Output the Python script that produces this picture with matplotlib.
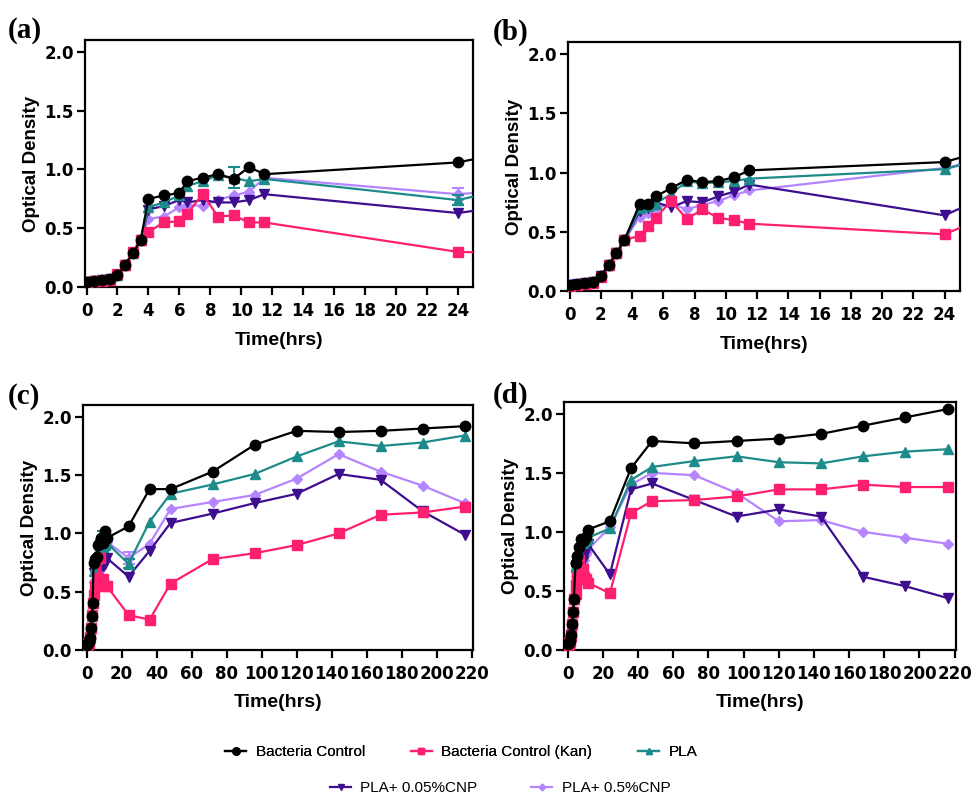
import numpy as np
import matplotlib
matplotlib.use("Agg")
import matplotlib.pyplot as plt

plt.rcParams['font.family'] = ['Liberation Sans', 'DejaVu Sans']

# experiment 1 -> panels (a) and (c)
t1 = [0, 0.5, 1, 1.5, 2, 2.5, 3, 3.5, 4, 5, 6, 6.5, 7.5, 8.5, 9.5, 10.5, 11.5,
      24, 36, 48, 72, 96, 120, 144, 168, 192, 216]
ctrl1 = [0.04, 0.05, 0.06, 0.07, 0.10, 0.19, 0.29, 0.40, 0.75, 0.78, 0.80, 0.90, 0.93, 0.96, 0.92, 1.02, 0.96,
         1.06, 1.38, 1.38, 1.53, 1.76, 1.88, 1.87, 1.88, 1.90, 1.92]
kan1 = [0.04, 0.05, 0.05, 0.06, 0.11, 0.19, 0.30, 0.40, 0.47, 0.55, 0.56, 0.62, 0.79, 0.60, 0.61, 0.55, 0.55,
        0.30, 0.26, 0.57, 0.78, 0.83, 0.90, 1.00, 1.16, 1.18, 1.23]
pla1 = [0.04, 0.05, 0.06, 0.07, 0.10, 0.19, 0.29, 0.40, 0.68, 0.72, 0.78, 0.86, 0.90, 0.95, 0.93, 0.90, 0.92,
        0.74, 1.10, 1.34, 1.42, 1.51, 1.66, 1.79, 1.75, 1.78, 1.84]
pla1_err = [0, 0, 0, 0, 0, 0, 0, 0, 0, 0, 0, 0, 0, 0, 0.09, 0, 0,
            0.04, 0, 0, 0, 0, 0, 0, 0, 0, 0]
cnp005_1 = [0.04, 0.05, 0.06, 0.07, 0.10, 0.19, 0.29, 0.40, 0.66, 0.69, 0.74, 0.72, 0.74, 0.72, 0.72, 0.74, 0.79,
            0.63, 0.85, 1.09, 1.17, 1.26, 1.34, 1.51, 1.46, 1.19, 0.99]
cnp05_1 = [0.04, 0.05, 0.06, 0.07, 0.10, 0.19, 0.29, 0.40, 0.58, 0.60, 0.68, 0.70, 0.69, 0.74, 0.78, 0.81, 0.93,
           0.79, 0.91, 1.21, 1.27, 1.33, 1.47, 1.68, 1.53, 1.41, 1.26]
cnp05_1_err = [0, 0, 0, 0, 0, 0, 0, 0, 0, 0, 0, 0, 0, 0, 0, 0, 0,
               0.05, 0, 0, 0, 0, 0, 0, 0, 0, 0]

# experiment 2 -> panels (b) and (d)
t2 = [0, 0.5, 1, 1.5, 2, 2.5, 3, 3.5, 4.5, 5, 5.5, 6.5, 7.5, 8.5, 9.5, 10.5, 11.5,
      24, 36, 48, 72, 96, 120, 144, 168, 192, 216]
ctrl2 = [0.05, 0.06, 0.07, 0.075, 0.13, 0.22, 0.32, 0.43, 0.74, 0.74, 0.80, 0.87, 0.94, 0.92, 0.93, 0.96, 1.02,
         1.09, 1.54, 1.77, 1.75, 1.77, 1.79, 1.83, 1.90, 1.97, 2.04]
kan2 = [0.04, 0.05, 0.06, 0.07, 0.12, 0.22, 0.32, 0.43, 0.47, 0.55, 0.62, 0.76, 0.61, 0.69, 0.62, 0.60, 0.57,
        0.48, 1.16, 1.26, 1.27, 1.30, 1.36, 1.36, 1.40, 1.38, 1.38]
pla2 = [0.05, 0.06, 0.07, 0.075, 0.13, 0.22, 0.32, 0.43, 0.70, 0.72, 0.74, 0.82, 0.93, 0.91, 0.92, 0.93, 0.95,
        1.03, 1.44, 1.55, 1.60, 1.64, 1.59, 1.58, 1.64, 1.68, 1.70]
cnp005_2 = [0.05, 0.06, 0.07, 0.075, 0.13, 0.22, 0.32, 0.43, 0.68, 0.70, 0.75, 0.71, 0.76, 0.75, 0.80, 0.84, 0.90,
            0.64, 1.36, 1.41, 1.27, 1.13, 1.19, 1.13, 0.62, 0.54, 0.44]
cnp05_2 = [0.05, 0.06, 0.07, 0.075, 0.13, 0.22, 0.32, 0.43, 0.63, 0.66, 0.70, 0.74, 0.69, 0.73, 0.76, 0.81, 0.85,
           1.04, 1.40, 1.50, 1.48, 1.33, 1.09, 1.10, 1.00, 0.95, 0.90]

labels = ["Bacteria Control", "Bacteria Control (Kan)", "PLA", "PLA+ 0.05%CNP", "PLA+ 0.5%CNP"]
colors = ["#000000", "#FF1F70", "#1E8B8B", "#3D0E8E", "#B585FF"]
markers = ["o", "s", "^", "v", "D"]
msizes = [7.5, 7, 7, 7, 5]
zorders = [6, 5, 4, 3, 2]

exp1 = [ctrl1, kan1, pla1, cnp005_1, cnp05_1]
exp2 = [ctrl2, kan2, pla2, cnp005_2, cnp05_2]
errs1 = {2: pla1_err, 4: cnp05_1_err}


def draw_panel(ax, t, series, errs, xlim, xticks):
    lines = []
    for i, y in enumerate(series):
        ln, = ax.plot(t, y, color=colors[i], marker=markers[i], markersize=msizes[i],
                      linewidth=1.6, zorder=zorders[i], label=labels[i])
        lines.append(ln)
        if i in errs:
            e = np.array(errs[i])
            m = e > 0
            ax.errorbar(np.array(t)[m], np.array(y)[m], yerr=e[m], fmt='none',
                        ecolor=colors[i], elinewidth=1.5, capsize=4, capthick=1.5, zorder=zorders[i])
    ax.set_xlim(*xlim)
    ax.set_ylim(0, 2.1)
    ax.set_xticks(xticks)
    ax.set_yticks([0, 0.5, 1.0, 1.5, 2.0])
    ax.set_yticklabels(["0.0", "0.5", "1.0", "1.5", "2.0"])
    for s in ax.spines.values():
        s.set_linewidth(1.6)
    ax.tick_params(axis='both', direction='out', width=1.6, labelsize=12)
    ax.tick_params(axis='y', length=6, pad=2)
    ax.tick_params(axis='x', length=6, pad=5)
    for lab in ax.get_xticklabels() + ax.get_yticklabels():
        lab.set_fontweight('bold')
        lab.set_family('DejaVu Sans')
    ax.set_xlabel("Time(hrs)", fontsize=14, fontweight='bold', labelpad=8)
    ax.set_ylabel("Optical Density", fontsize=13.5, fontweight='bold', labelpad=3)
    return lines


fig = plt.figure(figsize=(9.71, 8.0), dpi=100)
ax_a = fig.add_axes([0.0875, 0.641, 0.400, 0.309])
ax_b = fig.add_axes([0.585, 0.636, 0.404, 0.311])
ax_c = fig.add_axes([0.0855, 0.1875, 0.402, 0.306])
ax_d = fig.add_axes([0.581, 0.1875, 0.404, 0.310])

draw_panel(ax_a, t1, exp1, errs1, (-0.1, 25), range(0, 25, 2))
draw_panel(ax_b, t2, exp2, {}, (-0.1, 25), range(0, 25, 2))
handles = draw_panel(ax_c, t1, exp1, errs1, (-2, 221), range(0, 221, 20))
draw_panel(ax_d, t2, exp2, {}, (-2, 221), range(0, 221, 20))

# panel letters
for x, y, s in [(0.008, 0.962, "(a)"), (0.507, 0.959, "(b)"), (0.008, 0.505, "(c)"), (0.507, 0.506, "(d)")]:
    fig.text(x, y, s, fontsize=21, fontweight='bold', family='Liberation Serif', va='center', ha='left')

# legend in two rows
leg1 = fig.legend(handles[:3], labels[:3], loc='center', bbox_to_anchor=(0.475, 0.06), ncol=3,
                  frameon=False, fontsize=11, handlelength=1.4, handletextpad=0.6, columnspacing=3.0,
                  markerscale=0.7)
fig.legend(handles[3:], labels[3:], loc='center', bbox_to_anchor=(0.515, 0.015), ncol=2,
           frameon=False, fontsize=11, handlelength=1.4, handletextpad=0.6, columnspacing=3.5,
           markerscale=0.7)
fig.add_artist(leg1)

fig.savefig("out.png", dpi=100)
